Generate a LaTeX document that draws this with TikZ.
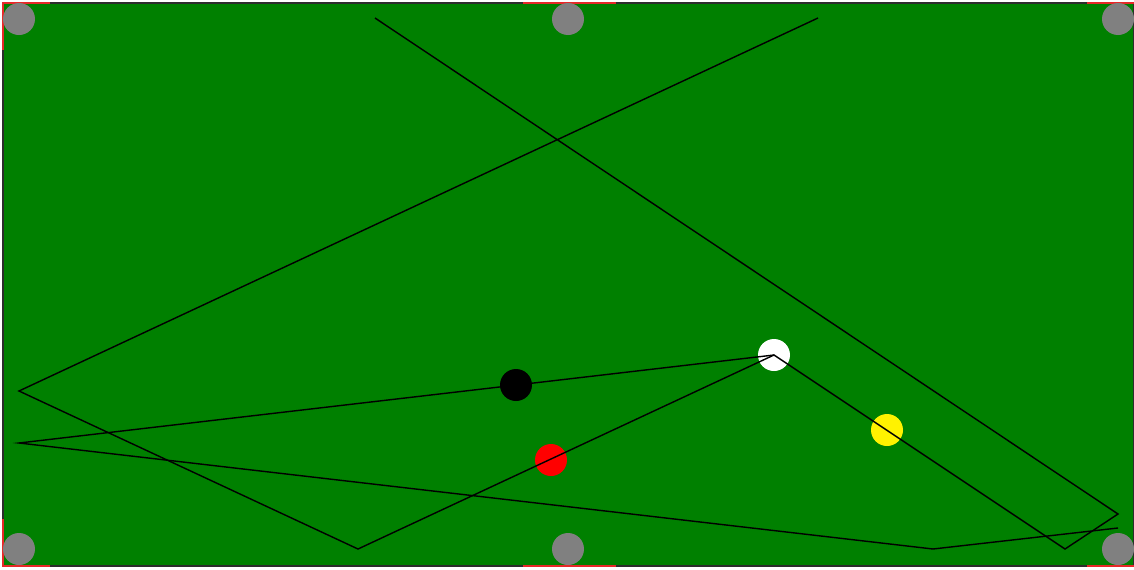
\documentclass[tikz,border=0pt]{standalone}
\usepackage{tikz}
\usetikzlibrary{positioning}
\usetikzlibrary{calc}

\definecolor{felt}{RGB}{0,128,0}
\definecolor{pocketgray}{RGB}{128,128,128}
\definecolor{cushionred}{RGB}{230,40,40}
\definecolor{railgray}{RGB}{45,45,45}

\begin{document}
\begin{tikzpicture}[x=0.02cm, y=-0.02cm,
    ball/.style={circle, inner sep=0pt, minimum size=0.64cm},
    track/.style={draw=black, line width=0.8pt}]

      \useasboundingbox (0,0) rectangle (1134,569);

      % Table felt and rail
      \fill[felt] (3,3) rectangle (1134,566);
      \draw[railgray, line width=1.2pt] (3,3) rectangle (1134,566);

      % Cushion openings near the pockets
      \def\cw{47}
      \begin{scope}[cushionred, line width=1.2pt]
        \draw (3,3+\cw) -- (3,3) -- (3+\cw,3);
        \draw (3,566-\cw) -- (3,566) -- (3+\cw,566);
        \draw (1134-\cw,3) -- (1134,3);
        \draw (1134-\cw,566) -- (1134,566);
        \draw (523,3) -- (616,3);
        \draw (523,566) -- (616,566);
      \end{scope}

      % Pockets
      \foreach \x [count=\i] in {19,568,1118} {
        \node[ball, fill=pocketgray] (pt\i) at (\x,19) {};
        \node[ball, fill=pocketgray] (pb\i) at (\x,549) {};
      }

      % Balls
      \node[ball, fill=white] (cue) at (774,355) {};
      \node[ball, fill=black] (black) at (516,385) {};
      \node[ball, fill=red] (red) at (551,460) {};
      \node[ball, fill=yellow] (yellow) at (887,430) {};

      % Bounce points on the cushions
      \coordinate (a1) at (818,18);
      \coordinate (a2) at (19,391);
      \coordinate (a3) at (358,549);
      \coordinate (a4) at (1065,549);
      \coordinate (a5) at (1118,514);
      \coordinate (a6) at (375,18);
      \coordinate (b1) at (19,443);
      \coordinate (b2) at (933,549);
      \coordinate (b3) at (1118,528);

      % Ball tracks
      \draw[track] (a1) -- (a2) -- (a3) -- (cue.center) -- (a4) -- (a5) -- (a6);
      \draw[track] (cue.center) -- (b1) -- (b2) -- (b3);

    \end{tikzpicture}
\end{document}
